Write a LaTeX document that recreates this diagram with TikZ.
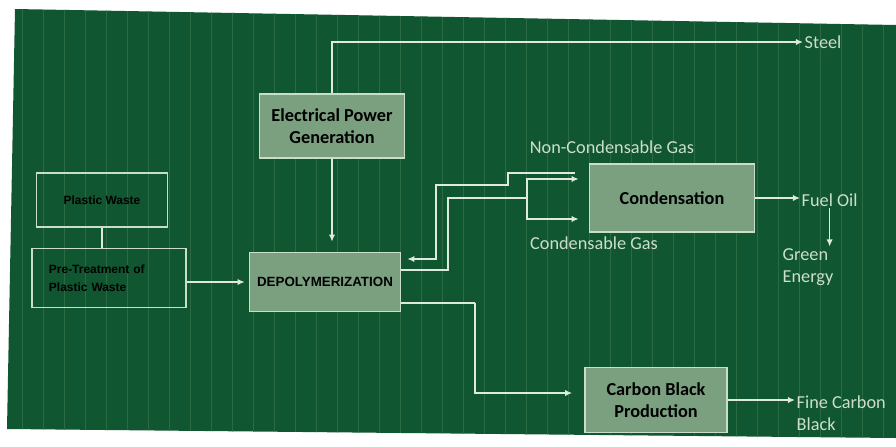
\documentclass[tikz,border=0pt]{standalone}
\usepackage{fontspec}
\setmainfont{Carlito}
\newfontfamily\arialfont{Liberation Sans}
\usetikzlibrary{calc, arrows.meta}

\definecolor{slidegreen}{RGB}{16,86,48}
\definecolor{stripegreen}{RGB}{44,106,66}
\definecolor{boxfill}{RGB}{122,160,128}
\definecolor{boxline}{RGB}{200,222,200}
\definecolor{lineclr}{RGB}{222,234,222}
\definecolor{labelclr}{RGB}{205,222,205}

\begin{document}
\begin{tikzpicture}[x=0.25mm, y=-0.25mm, >={Latex[length=1.8mm,width=1.6mm]},
    procbox/.style={draw=boxline, fill=boxfill, text=black, line width=1.1pt, inner sep=0pt,
        align=center, font=\bfseries\fontsize{13}{16}\selectfont},
    wastebox/.style={draw=boxline, text=black, line width=0.8pt, inner sep=0pt,
        font=\arialfont\bfseries\fontsize{8.5}{13}\selectfont},
    outlabel/.style={text=labelclr, inner sep=1pt, align=left, font=\fontsize{13}{16}\selectfont},
    flow/.style={draw=lineclr, line width=1.1pt}]
    % slide background
    \fill[white] (0,0) rectangle (896,446);
    \fill[slidegreen] (15,9) -- (896,25) -- (896,438) -- (7,429) -- cycle;
    \begin{scope}
        \clip (15,9) -- (896,25) -- (896,438) -- (7,429) -- cycle;
        \foreach \x in {22,43,...,896}
            \draw[stripegreen, line width=0.7pt] (\x,0) -- (\x,446);
    \end{scope}

    \node[wastebox, minimum width=32.75mm, minimum height=13.5mm] (waste) at (102,200) {Plastic Waste};
    \node[wastebox, minimum width=38.5mm, minimum height=14.75mm, text width=30mm, align=left] (pretreat) at (109,278) {Pre-Treatment of\\Plastic Waste};
    \node[procbox, minimum width=36.25mm, minimum height=16mm] (epg) at (332,126) {Electrical Power\\Generation};
    \node[procbox, minimum width=37.75mm, minimum height=14.75mm, font=\arialfont\bfseries\fontsize{9.5}{12}\selectfont] (depoly) at (325,282) {DEPOLYMERIZATION};
    \node[procbox, minimum width=41.25mm, minimum height=17mm] (cond) at (672,198) {Condensation};
    \node[procbox, minimum width=35.5mm, minimum height=16.25mm] (cbp) at (656,400) {Carbon Black\\Production};

    \node[outlabel, anchor=west] (steel) at (803,42) {Steel};
    \node[outlabel] (ncg) at (612,147) {Non-Condensable Gas};
    \node[outlabel] (cg) at (594,243) {Condensable Gas};
    \node[outlabel, anchor=west] (fuel) at (800,200) {Fuel Oil};
    \node[outlabel, anchor=west] (green) at (781,267) {Green\\Energy};
    \node[outlabel, anchor=north west] (fine) at (795,394) {Fine Carbon\\Black};

    \coordinate (vapour) at (448,198);
    \coordinate (split) at (527,198);
    \coordinate (ncgout) at (575,173);
    \coordinate (ncgdrop) at (508,185);
    \coordinate (ncgback) at (436,185);
    \coordinate (cbturn) at (475,303);

    \draw[flow] (waste.south) -- (waste.south |- pretreat.north);
    \draw[flow, ->, shorten >=1mm] (pretreat.east |- depoly.west) -- (depoly.west);
    \draw[flow, ->, shorten >=2.5mm] (epg.south) -- (epg.south |- depoly.north);
    \draw[flow, ->] (epg.north) |- (steel.west);
    % vapour to condenser
    \draw[flow] ([yshift=3mm]depoly.east) -| (vapour) -- (split);
    \draw[flow, ->, shorten >=2.5mm] (split) |- ([yshift=4.75mm]cond.west);
    \draw[flow, ->, shorten >=2.5mm] (split) |- ([yshift=-5.25mm]cond.west);
    % gas back to reactor
    \draw[flow, ->, shorten >=1.5mm] (ncgout) -| (ncgdrop) -- (ncgback) |- ([yshift=5.75mm]depoly.east);
    \draw[flow, ->, shorten >=3mm] ([yshift=-5.25mm]depoly.east) -| (cbturn) |- ([yshift=1.75mm]cbp.west);
    \draw[flow, ->] (cond.east) -- (cond.east -| fuel.west);
    \draw[flow, ->] (fuel.south) -- (fuel.south |- green.north);
    \draw[flow, ->] (cbp.east) -- (cbp.east -| fine.west);
\end{tikzpicture}
\end{document}
